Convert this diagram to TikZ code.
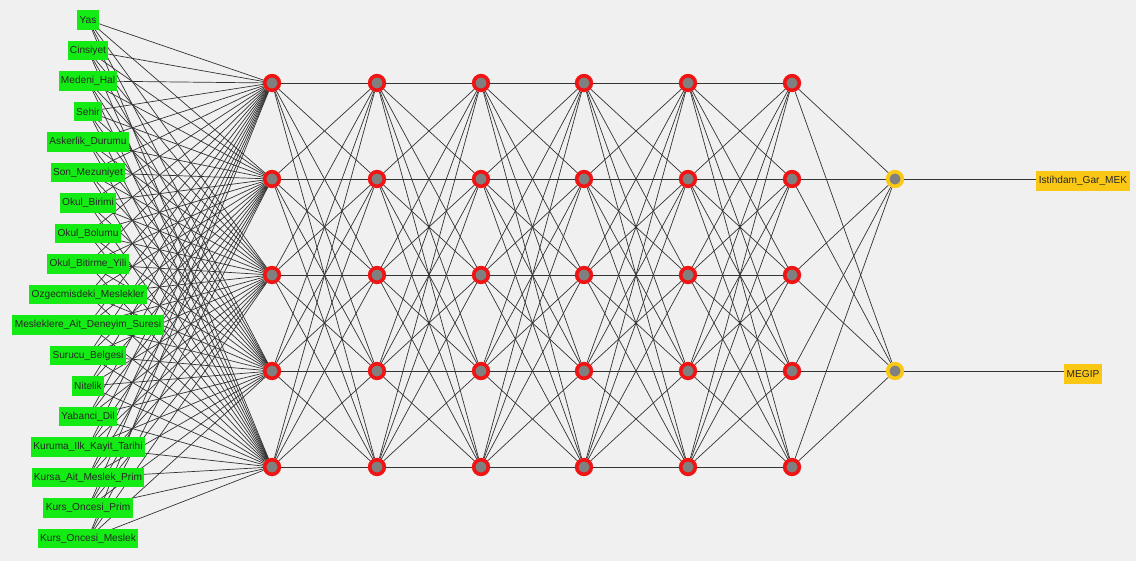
\documentclass[tikz,border=0pt]{standalone}
\usepackage{fontspec}
\setmainfont{Liberation Sans}
\usetikzlibrary{backgrounds}
\definecolor{bgCol}{RGB}{240,240,240}
\definecolor{inCol}{RGB}{20,235,20}
\definecolor{hidCol}{RGB}{240,20,20}
\definecolor{outCol}{RGB}{250,200,20}
\definecolor{coreCol}{RGB}{128,128,128}
\tikzset{
  inbox/.style={fill=inCol,inner xsep=1.7pt,inner ysep=0pt,minimum height=14pt,
                font=\fontsize{7.2}{8}\selectfont,text=black!85},
  outbox/.style={inbox,fill=outCol},
  neuron/.style={circle,draw=hidCol,line width=2.6pt,fill=coreCol,minimum size=10.4pt,inner sep=0pt},
  oneuron/.style={neuron,draw=outCol},
  wire/.style={black!80,line width=0.5pt},
}

\begin{document}
\begin{tikzpicture}[x={(0.025cm,0)},y={(0,-0.025cm)}]
    % --- input labels ---
    \foreach \lab [count=\i] in {Yas,Cinsiyet,Medeni\_Hal,Sehir,Askerlik\_Durumu,Son\_Mezuniyet,
        Okul\_Birimi,Okul\_Bolumu,Okul\_Bitirme\_Yili,Ozgecmisdeki\_Meslekler,
        Mesleklere\_Ait\_Deneyim\_Suresi,Surucu\_Belgesi,Nitelik,Yabanci\_Dil,
        Kuruma\_Ilk\_Kayit\_Tarihi,Kursa\_Ait\_Meslek\_Prim,Kurs\_Oncesi\_Prim,Kurs\_Oncesi\_Meslek}
        \node[inbox] (in\i) at (88,{20+(\i-1)*30.5}) {\lab};
    % --- hidden layers ---
    \foreach \c/\x in {1/272,2/377,3/481,4/584,5/688,6/792}
        \foreach \r in {1,...,5}
            \node[neuron] (h\c-\r) at (\x,{83+(\r-1)*96}) {};
    % --- outputs ---
    \node[oneuron] (o1) at (895,179) {};
    \node[oneuron] (o2) at (895,371) {};
    \node[outbox] (y1) at (1083,181) {Istihdam\_Gar\_MEK};
    \node[outbox] (y2) at (1083,374) {MEGIP};
    % --- connections ---
    \begin{pgfonlayer}{background}
        \fill[bgCol] (0,0) rectangle (1136,561);
        \foreach \i in {1,...,18}
            \foreach \r in {1,...,5} \draw[wire] (in\i.center) -- (h1-\r);
        \foreach \c [evaluate=\c as \n using int(\c+1)] in {1,...,5}
            \foreach \a in {1,...,5}
                \foreach \b in {1,...,5} \draw[wire] (h\c-\a) -- (h\n-\b);
        \foreach \a in {1,...,5}
            \foreach \k in {1,2} \draw[wire] (h6-\a) -- (o\k);
        \draw[wire] (o1) -- (o1 -| y1.west);
        \draw[wire] (o2) -- (o2 -| y2.west);
    \end{pgfonlayer}
\end{tikzpicture}
\end{document}
